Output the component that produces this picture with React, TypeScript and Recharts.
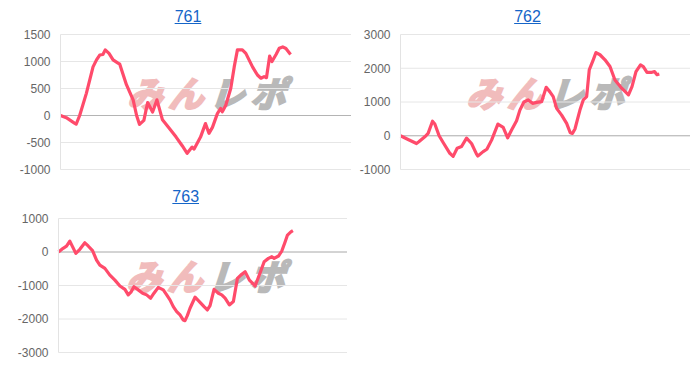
import { LineChart, Line, XAxis, YAxis, CartesianGrid, ReferenceLine } from 'recharts';

// 差枚 per machine, sampled at game counts
const games761 = [0, 200, 480, 540, 660, 890, 1120, 1240, 1350, 1460, 1540, 1670, 1810, 1980, 2040, 2270, 2500, 2620, 2720, 2870, 3000, 3170, 3320, 3510, 3750, 3980, 4190, 4360, 4530, 4600, 4820, 4990, 5110, 5230, 5400, 5510, 5570, 5690, 5860, 5980, 6090, 6260, 6380, 6610, 6780, 6900, 7010, 7090, 7200, 7280, 7420, 7530, 7650, 7760, 7920];
const diff761 = [0, -40, -140, -160, 0, 410, 900, 1030, 1120, 1130, 1215, 1150, 1030, 970, 950, 570, 290, 0, -165, -90, 240, 65, 290, -80, -240, -400, -560, -700, -585, -620, -400, -150, -330, -220, 35, 130, 70, 190, 500, 900, 1215, 1215, 1150, 900, 750, 690, 720, 700, 1100, 1000, 1130, 1245, 1270, 1240, 1130];

const games762 = [0, 263, 553, 633, 840, 954, 1106, 1186, 1334, 1473, 1704, 1818, 1957, 2109, 2282, 2454, 2627, 2672, 2855, 2983, 3146, 3364, 3547, 3702, 3837, 4010, 4124, 4262, 4411, 4563, 4702, 4874, 5033, 5161, 5275, 5393, 5566, 5739, 5863, 5939, 6026, 6198, 6313, 6430, 6520, 6658, 6752, 6890, 7063, 7236, 7408, 7640, 7875, 7996, 8134, 8290, 8387, 8514, 8687, 8774, 8860, 8940];
const diff762 = [0, -110, -230, -180, -30, 70, 430, 350, 0, -200, -520, -610, -370, -320, -70, -230, -545, -600, -470, -400, -130, 345, 250, -60, 170, 445, 760, 1000, 1060, 960, 990, 1010, 1435, 1300, 1160, 810, 610, 365, 90, 70, 200, 760, 1060, 1160, 1950, 2250, 2465, 2400, 2250, 2050, 1650, 1410, 1210, 1455, 1900, 2100, 2050, 1880, 1880, 1900, 1810, 1830];

const games763 = [0, 160, 278, 392, 486, 601, 740, 913, 1028, 1180, 1319, 1434, 1608, 1781, 1955, 2129, 2302, 2417, 2510, 2614, 2764, 2916, 3055, 3194, 3309, 3458, 3632, 3750, 3864, 3979, 4097, 4212, 4326, 4385, 4465, 4559, 4733, 4882, 5045, 5159, 5253, 5392, 5541, 5659, 5774, 5923, 6062, 6201, 6319, 6468, 6618, 6815, 6989, 7128, 7277, 7395, 7475, 7625, 7743, 7857, 7937, 8055, 8125];
const diff763 = [0, 110, 175, 325, 160, -40, 80, 275, 180, 40, -240, -390, -490, -690, -840, -1015, -1115, -1280, -1200, -1035, -1130, -1230, -1280, -1380, -1230, -1055, -1130, -1280, -1430, -1630, -1780, -1880, -2030, -2050, -1900, -1680, -1350, -1480, -1630, -1730, -1600, -1115, -1230, -1280, -1380, -1580, -1480, -790, -690, -590, -840, -1015, -620, -290, -190, -140, -190, -120, 35, 305, 505, 600, 635];

const ticks761 = [-1000, -500, 0, 500, 1000, 1500];
const ticks762 = [-1000, 0, 1000, 2000, 3000];
const ticks763 = [-3000, -2000, -1000, 0, 1000];

const MAX_GAMES = 10000;
const LINE_COLOR = '#ff4b6b';

const toRows = (games: number[], diff: number[]) =>
  games.map((g, i) => ({ game: g, diff: diff[i] }));

interface PanelProps {
  title: string;
  games: number[];
  diff: number[];
  ticks: number[];
  left: number;
  top: number;
  width: number;
  axisWidth: number;
  marginTop: number;
  marginBottom: number;
  titleX: number;
  markX: number;
  markY: number;
}

const markPart = (color: string) => ({
  color,
  WebkitTextStroke: `2.5px ${color}`,
});

const Panel = (p: PanelProps) => (
  <div style={{ position: 'absolute', left: p.left, top: p.top, width: p.width, height: 180 }}>
    <div
      style={{
        position: 'absolute',
        left: p.titleX - 50,
        top: 8,
        width: 100,
        textAlign: 'center',
        fontFamily: '"Liberation Sans", Arial, sans-serif',
        fontSize: 16,
        lineHeight: '18px',
      }}
    >
      <a href="#" style={{ color: '#1565c8', textDecoration: 'underline' }}>{p.title}</a>
    </div>
    {/* site logo behind the line */}
    <div
      style={{
        position: 'absolute',
        left: p.markX,
        top: p.markY,
        fontFamily: '"Noto Sans CJK JP", sans-serif',
        fontWeight: 700,
        fontSize: 35,
        lineHeight: '36px',
        letterSpacing: 6,
        whiteSpace: 'nowrap',
        transform: 'skewX(-18deg)',
        transformOrigin: 'left bottom',
      }}
    >
      <span style={markPart('#f1bcbc')}>みん</span>
      <span style={markPart('#b9b9b9')}>レポ</span>
    </div>
    <LineChart
      width={p.width}
      height={180}
      data={toRows(p.games, p.diff)}
      margin={{ top: p.marginTop, right: 0, bottom: p.marginBottom, left: 0 }}
      style={{ position: 'absolute', left: 0, top: 0 }}
    >
      <CartesianGrid vertical={false} stroke="#e6e6e6" />
      <XAxis dataKey="game" type="number" domain={[0, MAX_GAMES]} hide />
      <YAxis
        type="number"
        domain={[p.ticks[0], p.ticks[p.ticks.length - 1]]}
        ticks={p.ticks}
        width={p.axisWidth}
        axisLine={{ stroke: '#e3e3e3' }}
        tickLine={false}
        tickMargin={4}
        tick={{ fill: '#666', fontSize: 12, fontFamily: '"Liberation Sans", Arial, sans-serif' }}
        interval={0}
      />
      <ReferenceLine y={0} stroke="#b4b4b4" />
      <Line
        type="linear"
        dataKey="diff"
        stroke={LINE_COLOR}
        strokeWidth={3.2}
        strokeLinejoin="round"
        dot={false}
        isAnimationActive={false}
      />
    </LineChart>
  </div>
);

export default function App() {
  return (
    <div style={{ position: 'absolute', left: 0, top: 0, width: 700, height: 368, background: '#fff' }}>
      <Panel title="761" games={games761} diff={diff761} ticks={ticks761}
        left={0} top={0} width={351} axisWidth={60.5} marginTop={34.5} marginBottom={10.5}
        titleX={188} markX={126} markY={74} />
      <Panel title="762" games={games762} diff={diff762} ticks={ticks762}
        left={350} top={0} width={340} axisWidth={50.5} marginTop={34.5} marginBottom={10.5}
        titleX={177.5} markX={115} markY={74} />
      <Panel title="763" games={games763} diff={diff763} ticks={ticks763}
        left={0} top={180} width={347} axisWidth={58.5} marginTop={38.5} marginBottom={7.5}
        titleX={185.7} markX={125} markY={77} />
    </div>
  );
}
